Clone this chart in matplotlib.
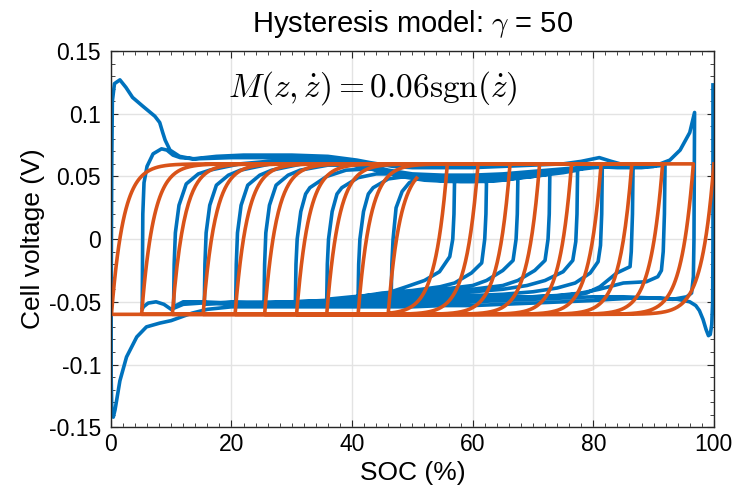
import numpy as np
from matplotlib import pyplot as plt
from matplotlib.ticker import MultipleLocator

BLUE = "#0072BD"
ORANGE = "#D95319"

# model parameters (from the title / annotation)
gamma = 50
m_hyst = 0.06
h_start = 0.06

# SOC reversal points of the model trajectory (%)
orange_rev = [100.0, 0.1, 96.6, 5.1, 91.5, 10.2, 86.4, 15.3, 81.3, 20.6,
              76.4, 25.5, 71.1, 30.8, 66.2, 35.8, 60.9, 41.0, 55.8, 46.0, 50.7]

# measured hysteresis voltage, one list of (SOC %, V) per monotone leg
d100 = [(99.85, 0.123), (99.85, 0.06), (99.85, 0.0), (99.8, -0.05), (99.65, -0.068),
        (99.4, -0.076), (99.1, -0.077), (98.7, -0.072), (98.2, -0.064), (97.6, -0.057),
        (97, -0.053), (96, -0.05), (94, -0.048), (91, -0.047), (87, -0.047), (83, -0.048),
        (80, -0.049), (75, -0.05), (70, -0.051), (65, -0.052), (60, -0.053), (55, -0.053),
        (50, -0.054), (40, -0.054), (30, -0.054), (20, -0.054), (16, -0.056),
        (13.5, -0.059), (12.3, -0.061), (10.0, -0.065), (8.1, -0.067), (5.9, -0.07),
        (4.3, -0.078), (2.6, -0.094), (1.5, -0.113), (0.7, -0.136), (0.4, -0.142),
        (0.15, -0.135), (0.05, -0.11)]
c0 = [(0.05, -0.11), (0.05, -0.05), (0.1, 0.0), (0.15, 0.06), (0.25, 0.11), (0.6, 0.124),
      (1.5, 0.127), (2.5, 0.121), (3.6, 0.113), (5.3, 0.106), (7.3, 0.098), (8.1, 0.093),
      (8.6, 0.085), (9.0, 0.079), (9.8, 0.071), (11.4, 0.066), (13.6, 0.064), (17.5, 0.066),
      (22, 0.067), (30, 0.067), (36, 0.066), (40.8, 0.063), (43, 0.061), (46.8, 0.058),
      (50, 0.057), (55, 0.057), (60, 0.057), (65, 0.058), (70, 0.059), (75, 0.06),
      (78, 0.062), (81, 0.065), (83, 0.062), (86, 0.058), (90, 0.058), (92.7, 0.063),
      (94.4, 0.071), (96, 0.085), (96.8, 0.101)]
d97 = [(96.8, 0.101), (96.75, 0.05), (96.7, 0.0), (96.6, -0.03), (96.3, -0.043),
       (95.5, -0.046), (93.2, -0.048), (90, -0.047), (85, -0.046), (80, -0.046),
       (75, -0.047), (70, -0.048), (65, -0.049), (60, -0.05), (55, -0.051), (50, -0.052),
       (45, -0.053), (30, -0.053), (20, -0.052), (15, -0.051), (12, -0.052), (10, -0.056),
       (8.8, -0.052), (7.5, -0.05), (6.2, -0.051), (5.4, -0.054), (5.2, -0.056)]
c5 = [(5.2, -0.056), (5.25, -0.02), (5.3, 0.02), (5.5, 0.045), (6.0, 0.058), (7.0, 0.068),
      (8.4, 0.072), (9.3, 0.071), (10.3, 0.067), (11.5, 0.065), (14, 0.064), (20, 0.065),
      (30, 0.065), (38, 0.064), (42, 0.06), (46, 0.055), (50, 0.052), (55, 0.051),
      (60, 0.051), (65, 0.052), (70, 0.054), (75, 0.056), (80, 0.058), (84, 0.057),
      (88, 0.057), (91.9, 0.059)]
d92 = [(91.9, 0.059), (91.8, 0.02), (91.6, -0.01), (91.3, -0.025), (90.7, -0.03),
       (88.8, -0.034), (85, -0.035), (81, -0.04), (78, -0.043), (74, -0.045), (70, -0.046),
       (65, -0.047), (60, -0.048), (55, -0.05), (50, -0.051), (45, -0.052), (30, -0.052),
       (20, -0.051), (15, -0.05), (12, -0.05), (10.4, -0.054)]
c10 = [(10.4, -0.054), (10.5, -0.02), (10.7, 0.005), (11.3, 0.027), (12.5, 0.044),
       (14.5, 0.052), (16.4, 0.055), (21.4, 0.06), (26, 0.062), (32, 0.063), (38, 0.062),
       (42, 0.059), (46, 0.054), (50, 0.051), (55, 0.049), (60, 0.049), (65, 0.05),
       (70, 0.052), (75, 0.054), (80, 0.057), (84, 0.058), (86.6, 0.058)]
d87 = [(86.6, 0.058), (86.5, 0.02), (86.3, -0.01), (86.1, -0.022), (83.9, -0.027),
       (81.1, -0.038), (78.9, -0.043), (75, -0.045), (70, -0.046), (60, -0.047),
       (55, -0.048), (50, -0.05), (45, -0.051), (30, -0.051), (20, -0.05), (15.5, -0.052)]
c15 = [(15.5, -0.052), (15.6, -0.02), (15.8, 0.005), (16.4, 0.027), (17.5, 0.043),
       (19.5, 0.051), (21.5, 0.055), (26.5, 0.06), (32, 0.062), (38, 0.062), (42, 0.059),
       (46, 0.054), (50, 0.05), (55, 0.048), (60, 0.048), (65, 0.049), (70, 0.051),
       (75, 0.054), (79, 0.057), (81.5, 0.06)]
d82 = [(81.5, 0.06), (81.4, 0.02), (81.2, -0.005), (80.8, -0.018), (79.5, -0.027),
       (77, -0.035), (74, -0.039), (70, -0.042), (65, -0.044), (60, -0.045), (55, -0.046),
       (50, -0.048), (45, -0.049), (40, -0.05), (30, -0.05), (20.7, -0.051)]
c21 = [(20.7, -0.051), (20.8, -0.02), (21, 0.005), (21.6, 0.027), (22.7, 0.043),
       (24.7, 0.051), (26.7, 0.055), (31.7, 0.06), (36, 0.061), (40, 0.06), (44, 0.056),
       (48, 0.051), (52, 0.048), (56, 0.047), (60, 0.047), (65, 0.048), (70, 0.05),
       (75, 0.053), (77.4, 0.055)]
d77 = [(77.4, 0.055), (77.3, 0.02), (77.1, -0.002), (76.6, -0.017), (75, -0.026),
       (72, -0.033), (69, -0.037), (65, -0.04), (60, -0.042), (55, -0.044), (50, -0.046),
       (45, -0.047), (40, -0.049), (30, -0.05), (25.4, -0.051)]
c25 = [(25.4, -0.051), (25.5, -0.02), (25.7, 0.005), (26.3, 0.027), (27.4, 0.043),
       (29.4, 0.051), (31.4, 0.055), (36, 0.059), (40, 0.059), (44, 0.055), (48, 0.05),
       (52, 0.047), (56, 0.046), (60, 0.046), (65, 0.047), (70, 0.05), (72.8, 0.052)]
d73 = [(72.8, 0.052), (72.7, 0.02), (72.5, 0.0), (72, -0.017), (70.3, -0.025),
       (67.5, -0.033), (65, -0.037), (60, -0.04), (55, -0.042), (50, -0.044),
       (45, -0.046), (40, -0.048), (35, -0.049), (30.6, -0.05)]
c31 = [(30.6, -0.05), (30.7, -0.02), (30.9, 0.0), (31.5, 0.022), (32.3, 0.036),
       (33, 0.041), (35.8, 0.05), (39, 0.055), (43, 0.056), (46, 0.054), (50, 0.05),
       (54, 0.047), (58, 0.046), (62, 0.046), (65, 0.047), (67.5, 0.049)]
d68 = [(67.5, 0.049), (67.4, 0.02), (67.2, 0.0), (66.7, -0.017), (65, -0.025),
       (62.3, -0.033), (60, -0.037), (55, -0.04), (50, -0.042), (45, -0.044),
       (40, -0.046), (35.8, -0.048)]
c36 = [(35.8, -0.048), (35.9, -0.02), (36.1, 0.0), (36.7, 0.022), (37.5, 0.036),
       (38.3, 0.041), (41, 0.049), (44, 0.052), (48, 0.052), (52, 0.05), (56, 0.048),
       (60, 0.047), (62.3, 0.048)]
d62 = [(62.3, 0.048), (62.2, 0.02), (62.0, 0.0), (61.5, -0.019), (59.8, -0.027),
       (57, -0.035), (54.6, -0.038), (50, -0.041), (45, -0.043), (41, -0.046)]
c41 = [(41, -0.046), (41.1, -0.02), (41.3, 0.0), (41.9, 0.022), (42.7, 0.036),
       (43.5, 0.041), (46, 0.048), (49, 0.05), (53, 0.049), (57, 0.048)]
d57 = [(57, 0.048), (56.9, 0.02), (56.7, 0.0), (56.2, -0.014), (54.5, -0.026),
       (52, -0.033), (49, -0.038), (46.5, -0.042)]
c47 = [(46.5, -0.042), (46.6, -0.02), (46.8, 0.0), (47.3, 0.025), (48.3, 0.038),
       (49.5, 0.045), (50.8, 0.048)]

blue_legs = [d100, c0, d97, c5, d92, c10, d87, c15, d82, c21, d77,
             c25, d73, c31, d68, c36, d62, c41, d57, c47]

xticks = [0, 20, 40, 60, 80, 100]
yticks = [-0.15, -0.1, -0.05, 0, 0.05, 0.1, 0.15]
ytick_labels = ["-0.15", "-0.1", "-0.05", "0", "0.05", "0.1", "0.15"]


def model_trajectory(rev, h0):
    # h follows dh/dz = gamma*|dz|*(M*sgn(dz) - h) between reversal points
    zs, hs = [], []
    h = h0
    for z0, z1 in zip(rev[:-1], rev[1:]):
        z = np.linspace(z0, z1, 400)
        s = np.sign(z1 - z0)
        seg = s * m_hyst + (h - s * m_hyst) * np.exp(-gamma * np.abs(z - z0) / 100.0)
        zs.append(z)
        hs.append(seg)
        h = seg[-1]
    return np.concatenate(zs), np.concatenate(hs)


plt.rcParams["font.family"] = ["Liberation Sans", "DejaVu Sans"]
plt.rcParams["mathtext.fontset"] = "cm"

fig = plt.figure(figsize=(7.39, 4.86), dpi=100)
ax = fig.add_axes([0.150, 0.121, 0.816, 0.774])

pts = np.concatenate([np.array(leg) for leg in blue_legs])
ax.plot(pts[:, 0], pts[:, 1], color=BLUE, linewidth=2.6, solid_joinstyle="round")

z_mod, h_mod = model_trajectory(orange_rev, h_start)
ax.plot(z_mod, h_mod, color=ORANGE, linewidth=2.6)

ax.set_xlim(0, 100)
ax.set_ylim(-0.15, 0.15)
ax.set_xticks(xticks)
ax.set_yticks(yticks)
ax.set_yticklabels(ytick_labels)
ax.xaxis.set_minor_locator(MultipleLocator(2))
ax.yaxis.set_minor_locator(MultipleLocator(0.01))
ax.tick_params(which="both", direction="in", top=True, right=True, labelsize=16.5,
               color="#262626")
ax.tick_params(which="major", length=5)
ax.tick_params(axis="y", which="major", pad=7)
ax.tick_params(axis="x", which="major", pad=4)
ax.tick_params(which="minor", length=3)
ax.grid(True, which="major", color="#e3e3e3", linewidth=1)
ax.set_axisbelow(True)
for sp in ax.spines.values():
    sp.set_color("#262626")
    sp.set_linewidth(1)

ax.set_xlabel("SOC (%)", fontsize=19, labelpad=4)
ax.set_ylabel("Cell voltage (V)", fontsize=19, labelpad=3)
ax.set_title(r"Hysteresis model: $\gamma$ = 50", fontsize=21, pad=14)
ax.text(0.194, 0.902, r"$M(z,\dot{z}) = 0.06\mathrm{sgn}(\dot{z})$", transform=ax.transAxes,
        fontsize=24, va="center", ha="left")

fig.savefig("out.png", dpi=100)
